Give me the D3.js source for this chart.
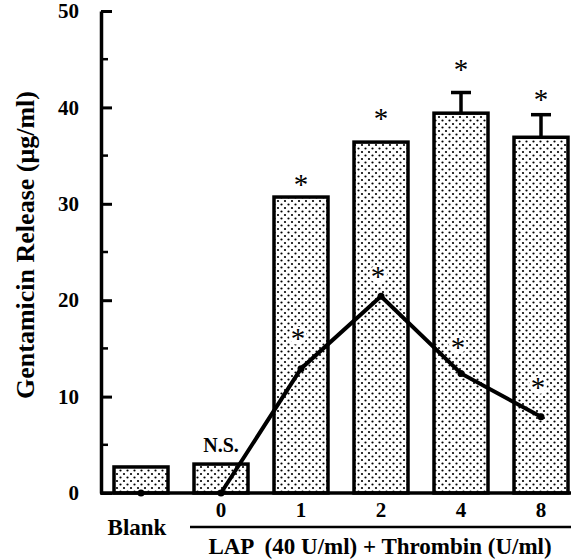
<!DOCTYPE html>
<html lang="en">
<head>
	<meta charset="UTF-8">
	<title>Gentamicin release</title>
	<script src="https://d3js.org/d3.v7.min.js"></script>
	<style>
		body { margin: 0; background: #fff; }
		text { font-family: "Liberation Serif", "Times New Roman", serif; font-weight: bold; fill: #000; }
	</style>
</head>
<body>
	<script type="text/javascript">

		// data
		var categories = ["Blank", "0", "1", "2", "4", "8"];
		var barValues = [2.7, 3.0, 30.7, 36.4, 39.4, 36.9];
		var barErrors = [0, 0, 0, 0, 2.3, 2.5];
		var barStars = [null, null, 32.3, 39.1, 44.2, 41.1];
		var lineValues = [0, 0, 12.9, 20.4, 12.4, 7.9];
		var lineStars = [null, null, 16.3, 22.7, 15.4, 11.2];
		var yTicks = [0, 10, 20, 30, 40, 50];
		var yMinorTicks = [5, 15, 25, 35, 45];

		var w = 573;
		var h = 560;

		var svg = d3.select("body")
					.append("svg")
					.attr("width", w)
					.attr("height", h);

		// dotted fill
		var pat = svg.append("defs").append("pattern")
					.attr("id", "dots")
					.attr("patternUnits", "userSpaceOnUse")
					.attr("width", 7)
					.attr("height", 7);
		pat.append("rect").attr("width", 7).attr("height", 7).attr("fill", "#fff");
		pat.append("circle").attr("cx", 1.5).attr("cy", 1.5).attr("r", 1.1).attr("fill", "#000");
		pat.append("circle").attr("cx", 5).attr("cy", 5).attr("r", 1.1).attr("fill", "#000");

		var x = d3.scalePoint()
					.domain(categories)
					.range([101, 581])
					.padding(0.5);
		var y = d3.scaleLinear()
					.domain([0, 50])
					.range([493, 11]);
		var barW = 54;

		// bars
		svg.selectAll("rect.bar")
			.data(categories)
			.enter()
			.append("rect")
			.attr("class", "bar")
			.attr("x", function(d){ return x(d) - barW / 2; })
			.attr("y", function(d, i){ return y(barValues[i]); })
			.attr("width", barW)
			.attr("height", function(d, i){ return y(0) - y(barValues[i]); })
			.attr("fill", "url(#dots)")
			.attr("stroke", "#000")
			.attr("stroke-width", 3.5);

		// error bars (upper only, T shape)
		categories.forEach(function(c, i){
			if (!barErrors[i]) return;
			var top = y(barValues[i] + barErrors[i]);
			svg.append("line")
				.attr("x1", x(c)).attr("x2", x(c))
				.attr("y1", y(barValues[i])).attr("y2", top)
				.attr("stroke", "#000").attr("stroke-width", 3.5);
			svg.append("line")
				.attr("x1", x(c) - 10).attr("x2", x(c) + 10)
				.attr("y1", top + 1.5).attr("y2", top + 1.5)
				.attr("stroke", "#000").attr("stroke-width", 3.5);
		});

		function star(cx, cy){
			svg.append("text")
				.attr("x", cx)
				.attr("y", cy + 12)
				.attr("text-anchor", "middle")
				.style("font-size", "29px")
				.style("font-weight", "normal")
				.text("*");
		}

		// asterisks above bars
		categories.forEach(function(c, i){
			if (barStars[i] == null) return;
			star(x(c), y(barStars[i]));
		});

		// white patches behind line asterisks
		categories.forEach(function(c, i){
			if (lineStars[i] == null) return;
			svg.append("circle")
				.attr("cx", x(c) - 3)
				.attr("cy", y(lineStars[i]))
				.attr("r", 9)
				.attr("fill", "#fff");
			star(x(c) - 3, y(lineStars[i]));
		});

		// y axis
		var yAxis = d3.axisLeft(y)
					.tickValues(yTicks)
					.tickSize(-11)
					.tickSizeOuter(0)
					.tickPadding(22);
		var gy = svg.append("g")
					.attr("transform", "translate(101,0)")
					.call(yAxis);
		gy.select(".domain").attr("stroke-width", 3.5);
		gy.selectAll(".tick line").attr("stroke-width", 3);
		gy.selectAll(".tick text")
			.style("font-size", "21px")
			.style("font-family", "Liberation Serif, serif")
			.style("font-weight", "bold");

		svg.append("g")
			.selectAll("line")
			.data(yMinorTicks)
			.enter()
			.append("line")
			.attr("x1", 101).attr("x2", 108)
			.attr("y1", function(d){ return y(d); })
			.attr("y2", function(d){ return y(d); })
			.attr("stroke", "#000").attr("stroke-width", 2.5);

		// x baseline
		svg.append("line")
			.attr("x1", 100).attr("x2", 571)
			.attr("y1", y(0)).attr("y2", y(0))
			.attr("stroke", "#000").attr("stroke-width", 3.5);

		// line series (Blank shown as lone point, others connected)
		var linePts = categories.map(function(c, i){ return [x(c), y(lineValues[i])]; });
		svg.append("path")
			.datum(linePts.slice(1))
			.attr("d", d3.line())
			.attr("fill", "none")
			.attr("stroke", "#000")
			.attr("stroke-width", 4)
			.attr("stroke-linejoin", "miter");
		svg.selectAll("circle.pt")
			.data(linePts)
			.enter()
			.append("circle")
			.attr("class", "pt")
			.attr("cx", function(d){ return d[0]; })
			.attr("cy", function(d){ return d[1]; })
			.attr("r", 3.5)
			.attr("fill", "#000");

		// x labels
		categories.forEach(function(c, i){
			if (i == 0) return;
			svg.append("text")
				.attr("x", x(c))
				.attr("y", 517)
				.attr("text-anchor", "middle")
				.style("font-size", "21px")
				.text(c);
		});
		svg.append("text")
			.attr("x", 137)
			.attr("y", 535)
			.attr("text-anchor", "middle")
			.style("font-size", "23px")
			.text(categories[0]);

		svg.append("text")
			.attr("x", x("0"))
			.attr("y", 452)
			.attr("text-anchor", "middle")
			.style("font-size", "20px")
			.text("N.S.");

		svg.append("line")
			.attr("x1", 190).attr("x2", 571)
			.attr("y1", 527).attr("y2", 527)
			.attr("stroke", "#000").attr("stroke-width", 2.5);

		svg.append("text")
			.attr("x", 380)
			.attr("y", 554)
			.attr("text-anchor", "middle")
			.style("font-size", "23px")
			.style("white-space", "pre")
			.text("LAP  (40 U/ml) + Thrombin (U/ml)");

		svg.append("text")
			.attr("transform", "translate(34,245) rotate(-90)")
			.attr("text-anchor", "middle")
			.style("font-size", "26px")
			.text("Gentamicin Release (μg/ml)");

	</script>
</body>
</html>
